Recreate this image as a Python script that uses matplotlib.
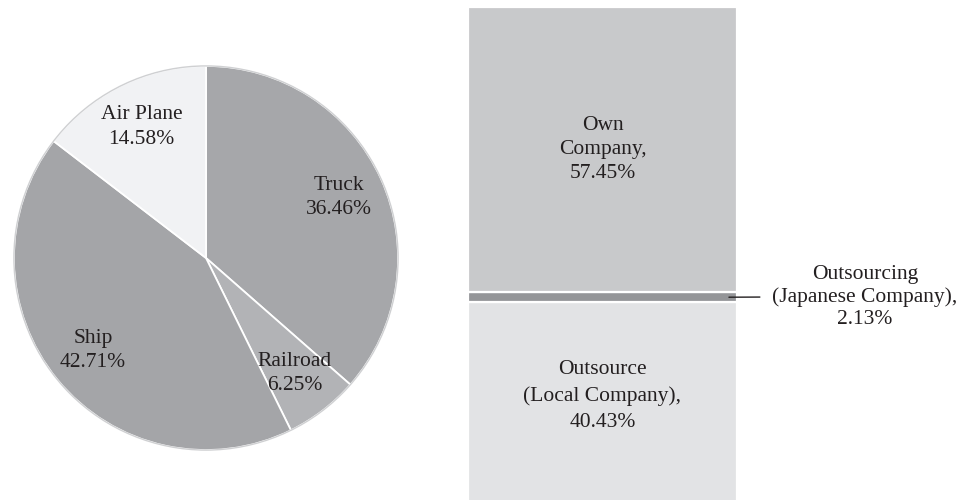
import matplotlib
matplotlib.use("Agg")
import matplotlib.pyplot as plt
from matplotlib.patches import Circle

# Transport mode shares (pie, clockwise from 12 o'clock)
MODES = ["Truck", "Railroad", "Ship", "Air Plane"]
MODE_SHARE = [36.46, 6.25, 42.71, 14.58]
MODE_COLORS = ["#a6a7aa", "#b2b3b6", "#a4a5a8", "#f1f2f4"]

# Who carries the goods (stacked bar, bottom -> top)
CARRIERS = ["Outsource\n(Local Company),", "Outsourcing\n(Japanese Company),", "Own\nCompany,"]
CARRIER_SHARE = [40.43, 2.13, 57.45]
CARRIER_COLORS = ["#e2e3e5", "#949598", "#c8c9cb"]

TXT = "#231f20"
FS = 15.5
plt.rcParams["font.family"] = ["Liberation Serif", "DejaVu Serif"]

W, H = 962, 500
fig = plt.figure(figsize=(W / 100, H / 100), dpi=100)


def px_axes(x0, y0, x1, y1):
    # axes from pixel box (top-left origin)
    return fig.add_axes([x0 / W, 1 - y1 / H, (x1 - x0) / W, (y1 - y0) / H])


# --- pie ---
ax = px_axes(12, 64, 400, 452)
wedges, texts = ax.pie(MODE_SHARE, colors=MODE_COLORS, startangle=90, counterclock=False,
                       labels=[f"{m}\n{v:.2f}%" for m, v in zip(MODES, MODE_SHARE)],
                       labeldistance=0.76,
                       wedgeprops=dict(edgecolor="white", linewidth=1.3),
                       textprops=dict(fontsize=FS, color=TXT))
for t in texts:
    t.set_ha("center")
    t.set_va("center")
    t.set_linespacing(1.37)
ax.add_patch(Circle((0, 0), 1.0, fill=False, edgecolor="#cfd0d2", linewidth=1.0))
ax.set_xlim(-1.01, 1.01)
ax.set_ylim(-1.01, 1.01)
ax.set_aspect("equal")
ax.axis("off")

# --- stacked bar ---
bx = px_axes(468, 7, 737, 503)
bottom = 0
mids = []
for lab, v, c in zip(CARRIERS, CARRIER_SHARE, CARRIER_COLORS):
    bx.bar(0, v, bottom=bottom, width=1.0, color=c, edgecolor="white", linewidth=1.6)
    mids.append(bottom + v / 2)
    bottom += v
bx.set_xlim(-0.5, 0.5)
bx.set_ylim(0, sum(CARRIER_SHARE))
bx.axis("off")

bx.text(0, mids[2], f"{CARRIERS[2]}\n{CARRIER_SHARE[2]:.2f}%", ha="center", va="center",
        fontsize=FS, color=TXT, linespacing=1.37)
bx.text(0, mids[0] + 1.3, f"{CARRIERS[0]}\n{CARRIER_SHARE[0]:.2f}%", ha="center", va="center",
        fontsize=FS, color=TXT, linespacing=1.5)
bx.annotate(f"{CARRIERS[1]}\n{CARRIER_SHARE[1]:.2f}%", xy=(0.47, mids[1]),
            xytext=(865, H - 297), textcoords="figure pixels",
            ha="center", va="center", fontsize=FS, color=TXT, linespacing=1.23,
            annotation_clip=False,
            arrowprops=dict(arrowstyle="-", color=TXT, lw=1.0, relpos=(0, 0.5),
                            shrinkA=7, shrinkB=0))

fig.savefig("out.png", dpi=100, facecolor="white")
